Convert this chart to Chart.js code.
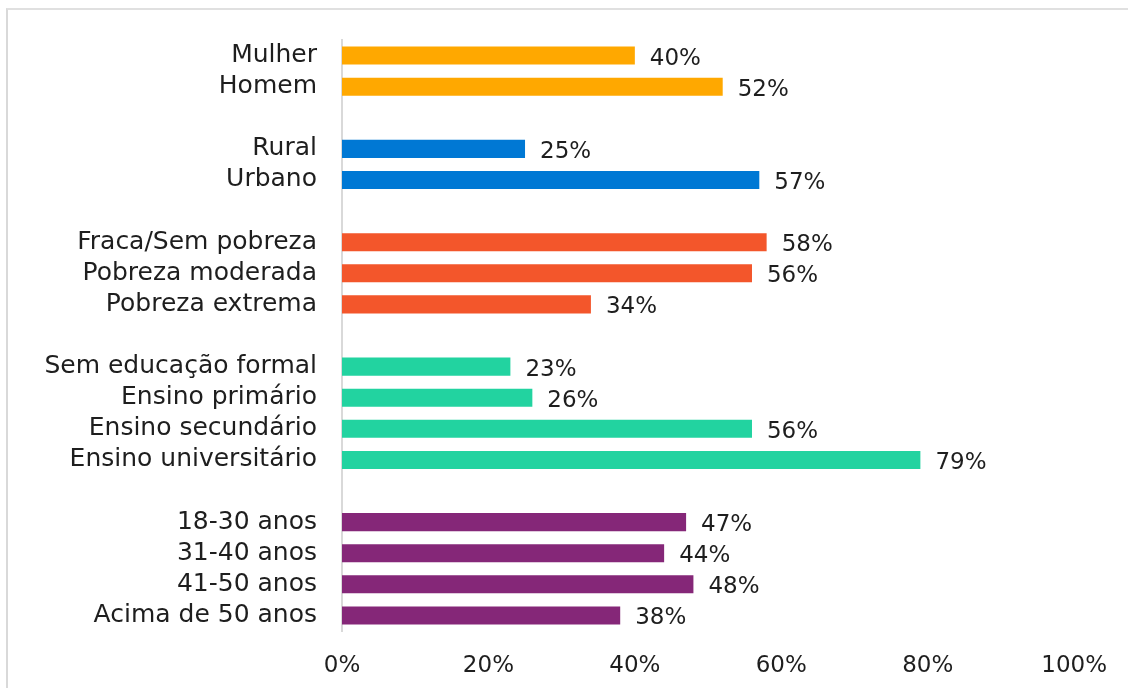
<!DOCTYPE html>
<html>
<head>
<meta charset="utf-8">
<script src="https://cdn.jsdelivr.net/npm/chart.js@4"></script>
<style>
  html, body { margin: 0; padding: 0; background: #fff; overflow: hidden; width: 1128px; height: 688px; }
  #frame { position: absolute; left: 6px; top: 8px; width: 1122px; height: 680px; border-left: 2px solid #d9d9d9; border-top: 2px solid #e0e0e0; box-sizing: border-box; }
  #wrap { position: absolute; left: 0; top: 0; width: 1128px; height: 688px; }
</style>
</head>
<body>
<div id="frame"></div>
<div id="wrap"><canvas id="c"></canvas></div>
<script>
const FONT = "'DejaVu Sans', sans-serif";
const TEXT = "#1e1e1e";

// groups, top to bottom
const sexo = ["Mulher", "Homem"];
const sexoVals = [40, 52];
const zona = ["Rural", "Urbano"];
const zonaVals = [25, 57];
const pobreza = ["Fraca/Sem pobreza", "Pobreza moderada", "Pobreza extrema"];
const pobrezaVals = [58, 56, 34];
const educacao = ["Sem educação formal", "Ensino primário", "Ensino secundário", "Ensino universitário"];
const educacaoVals = [23, 26, 56, 79];
const idade = ["18-30 anos", "31-40 anos", "41-50 anos", "Acima de 50 anos"];
const idadeVals = [47, 44, 48, 38];
const xTicks = [0, 20, 40, 60, 80, 100];

const groups = [
  { labels: sexo, values: sexoVals, color: "#FFA800" },
  { labels: zona, values: zonaVals, color: "#0078D4" },
  { labels: pobreza, values: pobrezaVals, color: "#F3562B" },
  { labels: educacao, values: educacaoVals, color: "#22D3A0" },
  { labels: idade, values: idadeVals, color: "#852778" },
];

const labels = [], values = [], colors = [];
groups.forEach((g, i) => {
  if (i > 0) { labels.push(""); values.push(null); colors.push("transparent"); }
  g.labels.forEach((l, j) => {
    labels.push(l);
    values.push(g.values[j]);
    colors.push(g.color);
  });
});

const valueLabels = {
  id: "valueLabels",
  afterDatasetsDraw(chart) {
    const { ctx } = chart;
    const meta = chart.getDatasetMeta(0);
    ctx.save();
    ctx.font = "23px " + FONT;
    ctx.fillStyle = TEXT;
    ctx.textAlign = "left";
    ctx.textBaseline = "middle";
    meta.data.forEach((bar, i) => {
      const v = values[i];
      if (v == null) return;
      ctx.fillText(v + "%", bar.x + 15, bar.y + 3);
    });
    ctx.restore();
  },
};

new Chart(document.getElementById("c"), {
  type: "bar",
  data: {
    labels,
    datasets: [{
      data: values,
      backgroundColor: colors,
      categoryPercentage: 1,
      barPercentage: 0.58,
    }],
  },
  options: {
    indexAxis: "y",
    responsive: true,
    maintainAspectRatio: false,
    animation: false,
    layout: { padding: { top: 37, right: 48, left: 0, bottom: 0 } },
    plugins: { legend: { display: false }, tooltip: { enabled: false } },
    scales: {
      x: {
        min: 0,
        max: 100,
        afterBuildTicks: (s) => { s.ticks = xTicks.map((v) => ({ value: v })); },
        afterFit: (s) => { s.height = 57; },
        grid: { display: false, drawTicks: false },
        border: { display: false },
        ticks: {
          color: TEXT,
          font: { family: FONT, size: 23 },
          padding: 21,
          callback: (v) => v + "%",
        },
      },
      y: {
        afterFit: (s) => { s.width = 342; },
        grid: { display: false, drawTicks: false },
        border: { display: true, color: "#d9d9d9", width: 2 },
        ticks: {
          color: TEXT,
          font: { family: FONT, size: 25 },
          padding: 25,
          autoSkip: false,
        },
      },
    },
  },
  plugins: [valueLabels],
});
</script>
</body>
</html>
